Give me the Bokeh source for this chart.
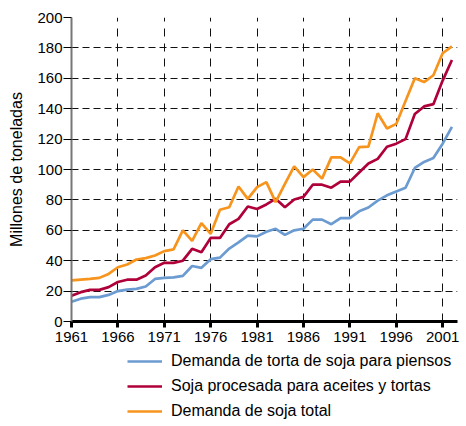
from bokeh.plotting import figure
from bokeh.layouts import column
from bokeh.models import Legend, LegendItem, FixedTicker, Range1d
from bokeh.embed import file_html
from bokeh.resources import INLINE

years = list(range(1961, 2003))

feed_demand = [13, 15, 16, 16, 17.5, 20, 21, 21.5, 23, 28, 28.7, 29, 30, 36.5, 35.3,
               41, 42, 48, 52, 56.5, 56, 59, 61, 57, 60, 61, 67, 67, 64, 68, 68,
               72.5, 75, 79.5, 83, 85.5, 88, 101, 105, 107.5, 117, 128]
processed = [17, 19.3, 20.8, 20.8, 22.6, 26, 27.5, 27.5, 30.3, 35.7, 38.6, 38.6, 40,
             47.8, 45.6, 55, 55, 64, 67.5, 75.7, 74, 77, 80.7, 75.2, 80.3, 82, 90, 90,
             88, 92, 92, 98, 104, 107, 115, 117, 120, 136.5, 141.5, 143, 158.5, 172]
total_demand = [27, 27.6, 28.1, 28.7, 31.3, 35.7, 37.5, 40.8, 41.7, 43.4, 46.3, 47.4, 60,
                53, 64.7, 57.7, 73.5, 75.2, 88.8, 80.7, 88.4, 91.7, 78.5, 90.6, 102, 95,
                100, 94, 108, 108, 104, 114.7, 115, 137, 127, 130, 145, 160, 157.5, 162,
                176.5, 181]

x_ticks = [1961, 1966, 1971, 1976, 1981, 1986, 1991, 1996, 2001]
y_ticks = [0, 20, 40, 60, 80, 100, 120, 140, 160, 180, 200]

labels = ["Demanda de torta de soja para piensos",
          "Soja procesada para aceites y tortas",
          "Demanda de soja total"]
colors = ["#6b9bd1", "#b0003a", "#f7941d"]
series = [feed_demand, processed, total_demand]

FONT = "Liberation Sans"

# ---- main chart ----
p = figure(frame_width=386, frame_height=304,
           output_backend="svg", toolbar_location=None,
           x_range=Range1d(1961, 2002.6), y_range=Range1d(0, 200),
           min_border_left=71, min_border_top=17, min_border_right=7,
           min_border_bottom=0)
p.outline_line_color = None
p.background_fill_color = "white"
p.border_fill_color = "white"

for ys, c in zip(series, colors):
    p.line(years, ys, line_color=c, line_width=2.7)

p.xgrid.ticker = FixedTicker(ticks=x_ticks)
p.ygrid.ticker = FixedTicker(ticks=y_ticks)
p.xgrid.grid_line_color = "#111111"
p.ygrid.grid_line_color = "#111111"
p.xgrid.grid_line_dash = "8 7"
p.ygrid.grid_line_dash = "7 4"
p.xgrid.grid_line_width = 1
p.ygrid.grid_line_width = 1

xa = p.xaxis[0]
xa.ticker = FixedTicker(ticks=x_ticks)
xa.axis_line_color = "black"
xa.axis_line_width = 3
xa.major_tick_line_color = "black"
xa.major_tick_line_width = 3
xa.major_tick_out = 6
xa.major_tick_in = 0
xa.minor_tick_line_color = None
xa.major_label_text_font = FONT
xa.major_label_text_font_size = "15px"
xa.major_label_text_color = "black"
xa.major_label_standoff = 4

ya = p.yaxis[0]
ya.ticker = FixedTicker(ticks=y_ticks)
ya.axis_line_color = "#777777"
ya.axis_line_width = 2
ya.major_tick_line_color = "black"
ya.major_tick_line_width = 1
ya.major_tick_out = 8
ya.major_tick_in = 0
ya.minor_tick_line_color = None
ya.major_label_text_font = FONT
ya.major_label_text_font_size = "15px"
ya.major_label_text_color = "black"
ya.major_label_standoff = 1
ya.axis_label = "Millones de toneladas"
ya.axis_label_text_font = FONT
ya.axis_label_text_font_size = "16px"
ya.axis_label_text_font_style = "normal"
ya.axis_label_text_color = "black"
ya.axis_label_standoff = 9

# ---- legend strip below the chart ----
p2 = figure(width=464, height=76, output_backend="svg", toolbar_location=None,
            x_axis_location=None, y_axis_location=None,
            x_range=Range1d(0, 1), y_range=Range1d(0, 1),
            min_border_left=71, min_border_right=7,
            min_border_top=0, min_border_bottom=0)
p2.outline_line_color = None
p2.grid.visible = False
p2.background_fill_color = "white"
p2.border_fill_color = "white"

items = []
for ys, c, lab in zip(series, colors, labels):
    r = p2.line(years, ys, line_color=c, line_width=2.7)
    items.append(LegendItem(label=lab, renderers=[r]))

legend = Legend(items=items, location=(56, 0), orientation="vertical",
                border_line_color=None, background_fill_alpha=0,
                padding=0, margin=0, spacing=7,
                glyph_width=35, glyph_height=16, label_height=16,
                label_standoff=9,
                label_text_font=FONT, label_text_font_size="16px",
                label_text_color="black")
p2.add_layout(legend)

layout = column(p, p2, spacing=0)
open("out.html", "w").write(file_html(layout, INLINE))
